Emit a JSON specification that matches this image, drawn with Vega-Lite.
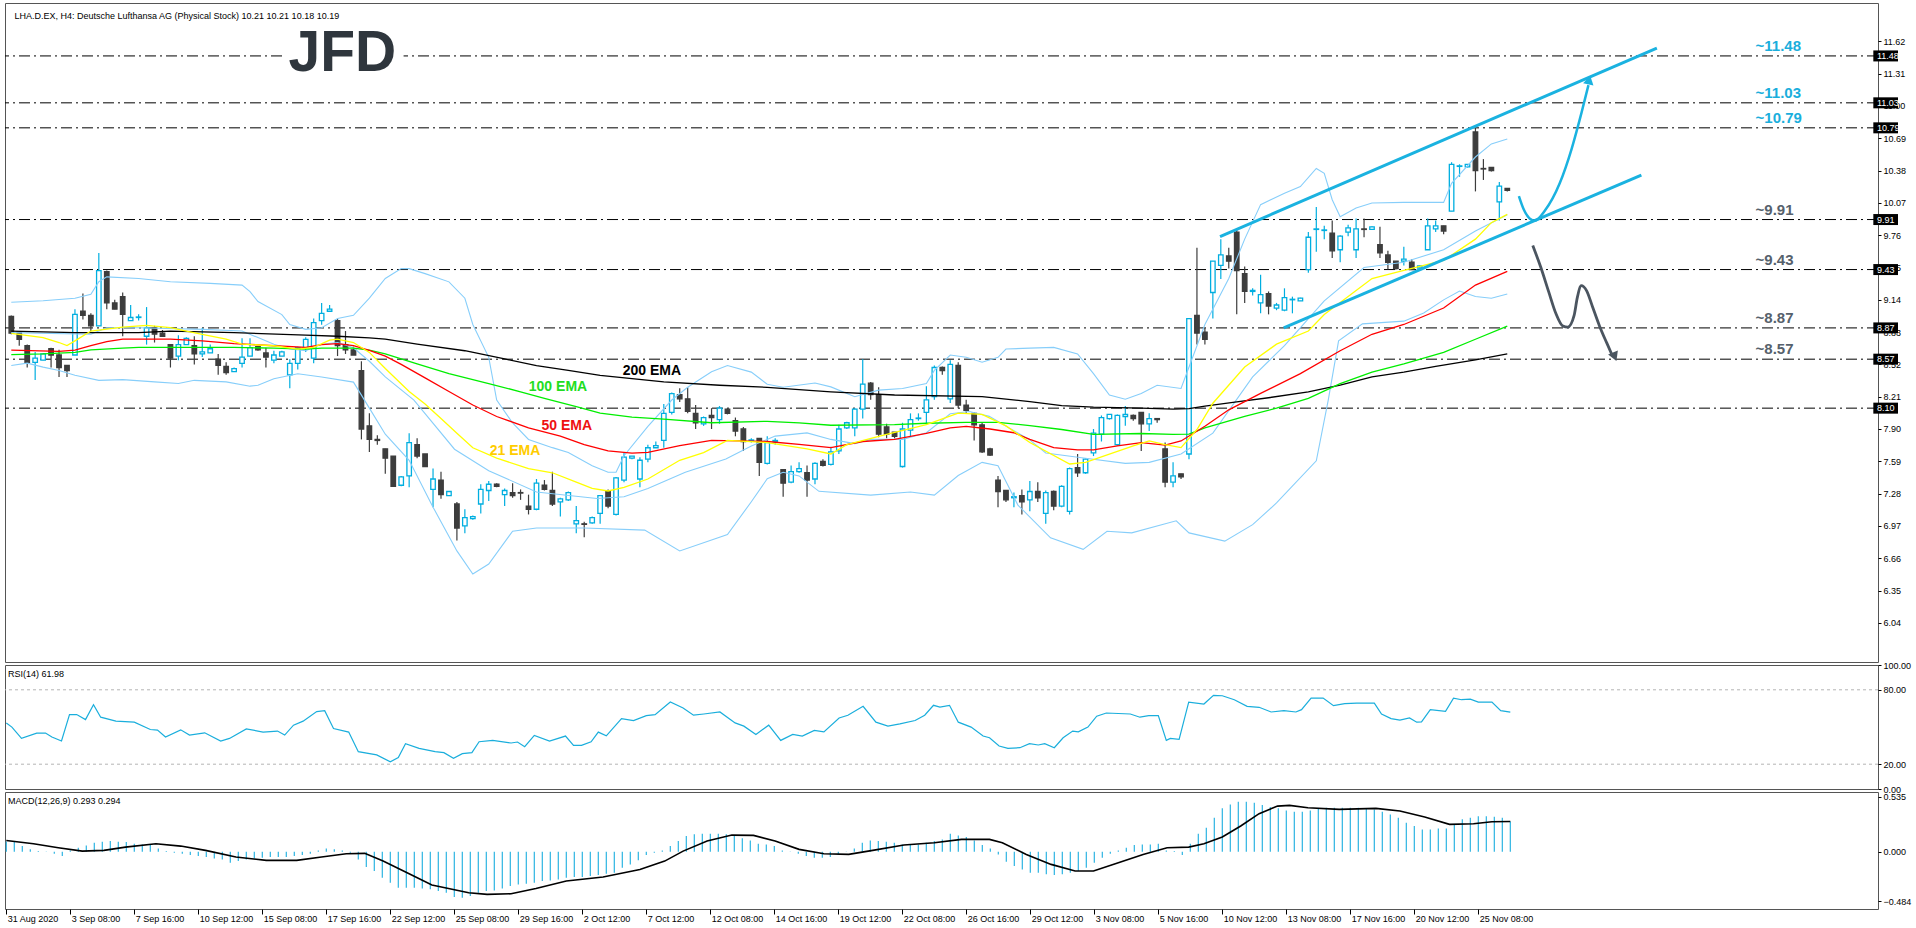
{
"$schema":"https://vega.github.io/schema/vega-lite/v6.json",
"background":"white",
"padding":{"left":2,"top":2,"right":0,"bottom":0},
"bounds":"flush",
"spacing":3,
"config":{"view":{"stroke":"#555555","strokeWidth":1},"axis":{"labelFont":"Liberation Sans","labelFontSize":9,"labelColor":"#000","tickColor":"#000","domain":false,"grid":false,"labelOverlap":false}},
"datasets":{
"levels":[{"p":11.48,"g":"hi","lab":"~11.48"},{"p":11.03,"g":"hi","lab":"~11.03"},{"p":10.79,"g":"hi","lab":"~10.79"},{"p":9.91,"g":"lo","lab":"~9.91"},{"p":9.43,"g":"lo","lab":"~9.43"},{"p":8.87,"g":"lo","lab":"~8.87"},{"p":8.57,"g":"lo","lab":"~8.57"},{"p":8.10,"g":"none","lab":""}],
"candles":[
{"i":0,"o":8.98,"h":8.99,"l":8.81,"c":8.82},{"i":1,"o":8.83,"h":8.83,"l":8.70,"c":8.76},{"i":2,"o":8.70,"h":8.71,"l":8.49,"c":8.54},{"i":3,"o":8.54,"h":8.64,"l":8.37,"c":8.58},{"i":4,"o":8.56,"h":8.63,"l":8.56,"c":8.62},{"i":5,"o":8.67,"h":8.68,"l":8.49,"c":8.61},{"i":6,"o":8.61,"h":8.66,"l":8.40,"c":8.49},{"i":7,"o":8.51,"h":8.51,"l":8.40,"c":8.46},{"i":8,"o":8.61,"h":9.05,"l":8.61,"c":9.00},{"i":9,"o":9.03,"h":9.20,"l":8.95,"c":8.99},
{"i":10,"o":8.99,"h":9.01,"l":8.84,"c":8.89},{"i":11,"o":8.89,"h":9.59,"l":8.89,"c":9.42},{"i":12,"o":9.41,"h":9.42,"l":9.05,"c":9.11},{"i":13,"o":9.11,"h":9.14,"l":9.05,"c":9.05},{"i":14,"o":9.17,"h":9.21,"l":8.79,"c":9.00},{"i":15,"o":8.94,"h":9.09,"l":8.94,"c":8.97},{"i":16,"o":8.97,"h":9.00,"l":8.94,"c":8.975},{"i":17,"o":8.79,"h":9.07,"l":8.71,"c":8.87},{"i":18,"o":8.87,"h":8.89,"l":8.73,"c":8.81},{"i":19,"o":8.82,"h":8.85,"l":8.79,"c":8.79},
{"i":20,"o":8.71,"h":8.71,"l":8.49,"c":8.58},{"i":21,"o":8.60,"h":8.80,"l":8.56,"c":8.71},{"i":22,"o":8.71,"h":8.78,"l":8.71,"c":8.77},{"i":23,"o":8.70,"h":8.79,"l":8.52,"c":8.62},{"i":24,"o":8.62,"h":8.87,"l":8.59,"c":8.64},{"i":25,"o":8.63,"h":8.71,"l":8.63,"c":8.67},{"i":26,"o":8.57,"h":8.62,"l":8.42,"c":8.51},{"i":27,"o":8.50,"h":8.54,"l":8.42,"c":8.44},{"i":28,"o":8.45,"h":8.49,"l":8.45,"c":8.48},{"i":29,"o":8.53,"h":8.77,"l":8.49,"c":8.59},
{"i":30,"o":8.60,"h":8.77,"l":8.60,"c":8.68},{"i":31,"o":8.69,"h":8.69,"l":8.65,"c":8.66},{"i":32,"o":8.63,"h":8.68,"l":8.49,"c":8.59},{"i":33,"o":8.56,"h":8.65,"l":8.53,"c":8.61},{"i":34,"o":8.60,"h":8.65,"l":8.60,"c":8.64},{"i":35,"o":8.42,"h":8.57,"l":8.29,"c":8.53},{"i":36,"o":8.53,"h":8.69,"l":8.47,"c":8.68},{"i":37,"o":8.68,"h":8.78,"l":8.64,"c":8.76},{"i":38,"o":8.58,"h":8.96,"l":8.53,"c":8.92},{"i":39,"o":8.94,"h":9.11,"l":8.90,"c":9.01},
{"i":40,"o":9.03,"h":9.09,"l":9.03,"c":9.05},{"i":41,"o":8.94,"h":8.96,"l":8.60,"c":8.70},{"i":42,"o":8.71,"h":8.84,"l":8.62,"c":8.66},{"i":43,"o":8.66,"h":8.69,"l":8.61,"c":8.61},{"i":44,"o":8.46,"h":8.55,"l":7.80,"c":7.90},{"i":45,"o":7.93,"h":8.05,"l":7.68,"c":7.80},{"i":46,"o":7.80,"h":7.84,"l":7.75,"c":7.79},{"i":47,"o":7.71,"h":7.71,"l":7.47,"c":7.62},{"i":48,"o":7.64,"h":7.64,"l":7.35,"c":7.35},{"i":49,"o":7.36,"h":7.45,"l":7.35,"c":7.44},
{"i":50,"o":7.45,"h":7.86,"l":7.34,"c":7.77},{"i":51,"o":7.75,"h":7.81,"l":7.62,"c":7.64},{"i":52,"o":7.66,"h":7.66,"l":7.54,"c":7.54},{"i":53,"o":7.32,"h":7.52,"l":7.15,"c":7.42},{"i":54,"o":7.41,"h":7.49,"l":7.23,"c":7.27},{"i":55,"o":7.26,"h":7.30,"l":7.26,"c":7.30},{"i":56,"o":7.18,"h":7.20,"l":6.83,"c":6.95},{"i":57,"o":6.97,"h":7.13,"l":6.90,"c":7.05},{"i":58,"o":7.04,"h":7.07,"l":7.03,"c":7.06},{"i":59,"o":7.18,"h":7.37,"l":7.09,"c":7.32},
{"i":60,"o":7.31,"h":7.40,"l":7.21,"c":7.37},{"i":61,"o":7.37,"h":7.38,"l":7.34,"c":7.35},{"i":62,"o":7.27,"h":7.33,"l":7.16,"c":7.31},{"i":63,"o":7.29,"h":7.38,"l":7.24,"c":7.26},{"i":64,"o":7.29,"h":7.32,"l":7.22,"c":7.285},{"i":65,"o":7.16,"h":7.27,"l":7.08,"c":7.13},{"i":66,"o":7.13,"h":7.42,"l":7.12,"c":7.38},{"i":67,"o":7.36,"h":7.41,"l":7.31,"c":7.32},{"i":68,"o":7.31,"h":7.49,"l":7.16,"c":7.18},{"i":69,"o":7.20,"h":7.24,"l":7.06,"c":7.23},
{"i":70,"o":7.22,"h":7.30,"l":7.21,"c":7.29},{"i":71,"o":6.99,"h":7.16,"l":6.90,"c":7.02},{"i":72,"o":6.99,"h":7.01,"l":6.86,"c":6.985},{"i":73,"o":7.00,"h":7.06,"l":6.99,"c":7.05},{"i":74,"o":7.09,"h":7.26,"l":6.99,"c":7.26},{"i":75,"o":7.30,"h":7.32,"l":7.14,"c":7.16},{"i":76,"o":7.08,"h":7.44,"l":7.07,"c":7.43},{"i":77,"o":7.41,"h":7.67,"l":7.39,"c":7.63},{"i":78,"o":7.62,"h":7.64,"l":7.61,"c":7.64},{"i":79,"o":7.42,"h":7.63,"l":7.34,"c":7.60},
{"i":80,"o":7.61,"h":7.75,"l":7.58,"c":7.72},{"i":81,"o":7.72,"h":7.78,"l":7.72,"c":7.74},{"i":82,"o":7.79,"h":8.14,"l":7.72,"c":8.05},{"i":83,"o":8.06,"h":8.25,"l":8.04,"c":8.24},{"i":84,"o":8.23,"h":8.29,"l":8.16,"c":8.19},{"i":85,"o":8.19,"h":8.30,"l":8.05,"c":8.07},{"i":86,"o":8.05,"h":8.13,"l":7.90,"c":7.96},{"i":87,"o":7.95,"h":8.02,"l":7.93,"c":8.01},{"i":88,"o":8.03,"h":8.10,"l":7.90,"c":8.01},{"i":89,"o":7.99,"h":8.12,"l":7.95,"c":8.10},
{"i":90,"o":8.09,"h":8.10,"l":8.04,"c":8.05},{"i":91,"o":7.98,"h":8.01,"l":7.83,"c":7.88},{"i":92,"o":7.90,"h":7.92,"l":7.69,"c":7.78},{"i":93,"o":7.79,"h":7.81,"l":7.77,"c":7.795},{"i":94,"o":7.81,"h":7.81,"l":7.45,"c":7.58},{"i":95,"o":7.57,"h":7.83,"l":7.56,"c":7.77},{"i":96,"o":7.78,"h":7.81,"l":7.75,"c":7.79},{"i":97,"o":7.51,"h":7.51,"l":7.25,"c":7.38},{"i":98,"o":7.39,"h":7.55,"l":7.38,"c":7.49},{"i":99,"o":7.49,"h":7.58,"l":7.48,"c":7.52},
{"i":100,"o":7.48,"h":7.55,"l":7.25,"c":7.41},{"i":101,"o":7.42,"h":7.58,"l":7.37,"c":7.57},{"i":102,"o":7.59,"h":7.61,"l":7.54,"c":7.55},{"i":103,"o":7.56,"h":7.73,"l":7.55,"c":7.68},{"i":104,"o":7.69,"h":7.94,"l":7.66,"c":7.90},{"i":105,"o":7.91,"h":7.97,"l":7.90,"c":7.96},{"i":106,"o":7.91,"h":8.10,"l":7.83,"c":8.09},{"i":107,"o":8.09,"h":8.57,"l":8.00,"c":8.33},{"i":108,"o":8.34,"h":8.35,"l":8.18,"c":8.23},{"i":109,"o":8.23,"h":8.30,"l":7.82,"c":7.85},
{"i":110,"o":7.92,"h":7.95,"l":7.81,"c":7.85},{"i":111,"o":7.87,"h":7.87,"l":7.81,"c":7.83},{"i":112,"o":7.54,"h":7.96,"l":7.53,"c":7.90},{"i":113,"o":7.89,"h":8.05,"l":7.83,"c":7.99},{"i":114,"o":8.00,"h":8.05,"l":7.98,"c":8.005},{"i":115,"o":8.06,"h":8.31,"l":7.94,"c":8.18},{"i":116,"o":8.21,"h":8.51,"l":8.18,"c":8.49},{"i":117,"o":8.49,"h":8.50,"l":8.42,"c":8.46},{"i":118,"o":8.19,"h":8.56,"l":8.15,"c":8.52},{"i":119,"o":8.51,"h":8.54,"l":8.10,"c":8.13},
{"i":120,"o":8.13,"h":8.18,"l":8.05,"c":8.08},{"i":121,"o":8.05,"h":8.06,"l":7.79,"c":7.94},{"i":122,"o":7.94,"h":7.96,"l":7.67,"c":7.68},{"i":123,"o":7.71,"h":7.72,"l":7.64,"c":7.65},{"i":124,"o":7.41,"h":7.45,"l":7.15,"c":7.30},{"i":125,"o":7.31,"h":7.31,"l":7.20,"c":7.22},{"i":126,"o":7.24,"h":7.29,"l":7.15,"c":7.25},{"i":127,"o":7.26,"h":7.32,"l":7.08,"c":7.20},{"i":128,"o":7.22,"h":7.40,"l":7.11,"c":7.30},{"i":129,"o":7.30,"h":7.39,"l":7.20,"c":7.24},
{"i":130,"o":7.09,"h":7.31,"l":6.99,"c":7.29},{"i":131,"o":7.30,"h":7.31,"l":7.12,"c":7.16},{"i":132,"o":7.16,"h":7.36,"l":7.15,"c":7.35},{"i":133,"o":7.11,"h":7.53,"l":7.08,"c":7.52},{"i":134,"o":7.53,"h":7.66,"l":7.44,"c":7.48},{"i":135,"o":7.48,"h":7.62,"l":7.47,"c":7.61},{"i":136,"o":7.67,"h":7.90,"l":7.64,"c":7.86},{"i":137,"o":7.85,"h":8.03,"l":7.78,"c":8.01},{"i":138,"o":8.00,"h":8.04,"l":7.99,"c":8.04},{"i":139,"o":7.75,"h":8.04,"l":7.74,"c":8.03},
{"i":140,"o":8.02,"h":8.12,"l":7.93,"c":8.04},{"i":141,"o":8.03,"h":8.04,"l":7.98,"c":8.00},{"i":142,"o":8.06,"h":8.06,"l":7.69,"c":7.95},{"i":143,"o":7.95,"h":8.05,"l":7.88,"c":8.00},{"i":144,"o":8.00,"h":8.00,"l":7.96,"c":7.99},{"i":145,"o":7.71,"h":7.77,"l":7.34,"c":7.39},{"i":146,"o":7.39,"h":7.58,"l":7.34,"c":7.45},{"i":147,"o":7.47,"h":7.47,"l":7.42,"c":7.44},{"i":148,"o":7.66,"h":8.96,"l":7.61,"c":8.96},{"i":149,"o":8.99,"h":9.64,"l":8.71,"c":8.82},
{"i":150,"o":8.83,"h":8.87,"l":8.71,"c":8.76},{"i":151,"o":9.21,"h":9.51,"l":8.96,"c":9.51},{"i":152,"o":9.47,"h":9.72,"l":9.34,"c":9.57},{"i":153,"o":9.56,"h":9.64,"l":9.44,"c":9.51},{"i":154,"o":9.79,"h":9.83,"l":9.00,"c":9.42},{"i":155,"o":9.39,"h":9.46,"l":9.11,"c":9.22},{"i":156,"o":9.22,"h":9.25,"l":9.18,"c":9.23},{"i":157,"o":9.11,"h":9.38,"l":9.01,"c":9.19},{"i":158,"o":9.20,"h":9.22,"l":9.00,"c":9.08},{"i":159,"o":9.06,"h":9.11,"l":9.04,"c":9.09},
{"i":160,"o":9.04,"h":9.25,"l":9.03,"c":9.16},{"i":161,"o":9.14,"h":9.17,"l":9.01,"c":9.145},{"i":162,"o":9.13,"h":9.16,"l":9.13,"c":9.155},{"i":163,"o":9.43,"h":9.79,"l":9.40,"c":9.74},{"i":164,"o":9.815,"h":10.03,"l":9.60,"c":9.82},{"i":165,"o":9.805,"h":9.85,"l":9.72,"c":9.81},{"i":166,"o":9.78,"h":9.90,"l":9.54,"c":9.61},{"i":167,"o":9.62,"h":9.76,"l":9.50,"c":9.75},{"i":168,"o":9.79,"h":9.86,"l":9.75,"c":9.83},{"i":169,"o":9.62,"h":9.92,"l":9.54,"c":9.82},
{"i":170,"o":9.82,"h":9.92,"l":9.74,"c":9.815},{"i":171,"o":9.815,"h":9.845,"l":9.81,"c":9.84},{"i":172,"o":9.67,"h":9.84,"l":9.54,"c":9.59},{"i":173,"o":9.57,"h":9.61,"l":9.43,"c":9.50},{"i":174,"o":9.51,"h":9.51,"l":9.43,"c":9.44},{"i":175,"o":9.51,"h":9.65,"l":9.47,"c":9.53},{"i":176,"o":9.50,"h":9.53,"l":9.43,"c":9.43},{"i":177,"o":9.445,"h":9.47,"l":9.44,"c":9.465},{"i":178,"o":9.62,"h":9.92,"l":9.62,"c":9.85},{"i":179,"o":9.82,"h":9.90,"l":9.79,"c":9.85},
{"i":180,"o":9.85,"h":9.85,"l":9.77,"c":9.80},{"i":181,"o":9.99,"h":10.46,"l":9.99,"c":10.44},{"i":182,"o":10.42,"h":10.44,"l":10.32,"c":10.425},{"i":183,"o":10.415,"h":10.44,"l":10.41,"c":10.44},{"i":184,"o":10.75,"h":10.79,"l":10.18,"c":10.38},{"i":185,"o":10.40,"h":10.49,"l":10.29,"c":10.395},{"i":186,"o":10.41,"h":10.41,"l":10.37,"c":10.38},{"i":187,"o":10.08,"h":10.27,"l":9.90,"c":10.23},{"i":188,"o":10.21,"h":10.21,"l":10.18,"c":10.19}
],
"ema":[
{"s":"e200","i":0,"v":8.84},{"s":"e200","i":8,"v":8.825},{"s":"e200","i":16,"v":8.825},{"s":"e200","i":20,"v":8.84},{"s":"e200","i":28,"v":8.825},{"s":"e200","i":37,"v":8.80},{"s":"e200","i":41,"v":8.79},{"s":"e200","i":45,"v":8.775},{"s":"e200","i":47,"v":8.762},{"s":"e200","i":51,"v":8.714},{"s":"e200","i":57,"v":8.651},{"s":"e200","i":62,"v":8.572},{"s":"e200","i":66,"v":8.509},{"s":"e200","i":70,"v":8.462},{"s":"e200","i":74,"v":8.415},{"s":"e200","i":78,"v":8.383},{"s":"e200","i":82,"v":8.352},{"s":"e200","i":89,"v":8.32},{"s":"e200","i":95,"v":8.30},{"s":"e200","i":103,"v":8.257},{"s":"e200","i":111,"v":8.226},{"s":"e200","i":122,"v":8.21},{"s":"e200","i":128,"v":8.163},{"s":"e200","i":132,"v":8.125},{"s":"e200","i":136,"v":8.109},{"s":"e200","i":142,"v":8.10},{"s":"e200","i":146,"v":8.09},{"s":"e200","i":148,"v":8.095},{"s":"e200","i":150,"v":8.12},{"s":"e200","i":154,"v":8.16},{"s":"e200","i":158,"v":8.20},{"s":"e200","i":163,"v":8.257},{"s":"e200","i":167,"v":8.32},{"s":"e200","i":171,"v":8.40},{"s":"e200","i":175,"v":8.446},{"s":"e200","i":179,"v":8.50},{"s":"e200","i":184,"v":8.563},{"s":"e200","i":188,"v":8.62},
{"s":"e100","i":0,"v":8.613},{"s":"e100","i":4,"v":8.62},{"s":"e100","i":8,"v":8.635},{"s":"e100","i":10,"v":8.66},{"s":"e100","i":14,"v":8.676},{"s":"e100","i":16,"v":8.683},{"s":"e100","i":28,"v":8.683},{"s":"e100","i":33,"v":8.676},{"s":"e100","i":37,"v":8.667},{"s":"e100","i":39,"v":8.676},{"s":"e100","i":43,"v":8.676},{"s":"e100","i":45,"v":8.657},{"s":"e100","i":47,"v":8.62},{"s":"e100","i":51,"v":8.525},{"s":"e100","i":55,"v":8.431},{"s":"e100","i":60,"v":8.336},{"s":"e100","i":64,"v":8.257},{"s":"e100","i":67,"v":8.194},{"s":"e100","i":71,"v":8.115},{"s":"e100","i":74,"v":8.052},{"s":"e100","i":78,"v":8.014},{"s":"e100","i":82,"v":7.995},{"s":"e100","i":88,"v":7.96},{"s":"e100","i":95,"v":7.974},{"s":"e100","i":99,"v":7.958},{"s":"e100","i":103,"v":7.936},{"s":"e100","i":111,"v":7.942},{"s":"e100","i":115,"v":7.955},{"s":"e100","i":120,"v":7.964},{"s":"e100","i":124,"v":7.964},{"s":"e100","i":128,"v":7.933},{"s":"e100","i":132,"v":7.895},{"s":"e100","i":136,"v":7.848},{"s":"e100","i":142,"v":7.857},{"s":"e100","i":146,"v":7.848},{"s":"e100","i":148,"v":7.85},{"s":"e100","i":150,"v":7.911},{"s":"e100","i":155,"v":8.021},{"s":"e100","i":159,"v":8.10},{"s":"e100","i":163,"v":8.194},{"s":"e100","i":167,"v":8.336},{"s":"e100","i":171,"v":8.446},{"s":"e100","i":175,"v":8.525},{"s":"e100","i":180,"v":8.635},{"s":"e100","i":184,"v":8.761},{"s":"e100","i":188,"v":8.887},
{"s":"e50","i":0,"v":8.657},{"s":"e50","i":6,"v":8.645},{"s":"e50","i":8,"v":8.657},{"s":"e50","i":10,"v":8.699},{"s":"e50","i":12,"v":8.739},{"s":"e50","i":14,"v":8.762},{"s":"e50","i":20,"v":8.762},{"s":"e50","i":24,"v":8.746},{"s":"e50","i":28,"v":8.72},{"s":"e50","i":33,"v":8.699},{"s":"e50","i":37,"v":8.683},{"s":"e50","i":39,"v":8.71},{"s":"e50","i":41,"v":8.72},{"s":"e50","i":43,"v":8.70},{"s":"e50","i":45,"v":8.655},{"s":"e50","i":47,"v":8.60},{"s":"e50","i":49,"v":8.52},{"s":"e50","i":52,"v":8.39},{"s":"e50","i":55,"v":8.26},{"s":"e50","i":58,"v":8.13},{"s":"e50","i":61,"v":8.02},{"s":"e50","i":65,"v":7.911},{"s":"e50","i":69,"v":7.832},{"s":"e50","i":72,"v":7.75},{"s":"e50","i":75,"v":7.69},{"s":"e50","i":78,"v":7.668},{"s":"e50","i":80,"v":7.675},{"s":"e50","i":84,"v":7.74},{"s":"e50","i":88,"v":7.79},{"s":"e50","i":95,"v":7.78},{"s":"e50","i":99,"v":7.753},{"s":"e50","i":103,"v":7.721},{"s":"e50","i":107,"v":7.78},{"s":"e50","i":111,"v":7.80},{"s":"e50","i":115,"v":7.857},{"s":"e50","i":118,"v":7.911},{"s":"e50","i":120,"v":7.926},{"s":"e50","i":123,"v":7.90},{"s":"e50","i":126,"v":7.864},{"s":"e50","i":128,"v":7.80},{"s":"e50","i":131,"v":7.721},{"s":"e50","i":134,"v":7.70},{"s":"e50","i":136,"v":7.70},{"s":"e50","i":139,"v":7.737},{"s":"e50","i":142,"v":7.769},{"s":"e50","i":145,"v":7.745},{"s":"e50","i":147,"v":7.785},{"s":"e50","i":150,"v":7.927},{"s":"e50","i":153,"v":8.084},{"s":"e50","i":157,"v":8.242},{"s":"e50","i":162,"v":8.431},{"s":"e50","i":167,"v":8.651},{"s":"e50","i":171,"v":8.809},{"s":"e50","i":175,"v":8.903},{"s":"e50","i":180,"v":9.061},{"s":"e50","i":184,"v":9.281},{"s":"e50","i":188,"v":9.413},
{"s":"e21","i":0,"v":8.818},{"s":"e21","i":4,"v":8.777},{"s":"e21","i":6,"v":8.73},{"s":"e21","i":7,"v":8.70},{"s":"e21","i":8,"v":8.746},{"s":"e21","i":10,"v":8.84},{"s":"e21","i":14,"v":8.878},{"s":"e21","i":17,"v":8.894},{"s":"e21","i":20,"v":8.872},{"s":"e21","i":22,"v":8.84},{"s":"e21","i":24,"v":8.809},{"s":"e21","i":27,"v":8.762},{"s":"e21","i":29,"v":8.714},{"s":"e21","i":33,"v":8.699},{"s":"e21","i":36,"v":8.667},{"s":"e21","i":38,"v":8.683},{"s":"e21","i":40,"v":8.752},{"s":"e21","i":41,"v":8.762},{"s":"e21","i":43,"v":8.73},{"s":"e21","i":45,"v":8.635},{"s":"e21","i":47,"v":8.48},{"s":"e21","i":50,"v":8.26},{"s":"e21","i":52,"v":8.14},{"s":"e21","i":54,"v":8.0},{"s":"e21","i":56,"v":7.86},{"s":"e21","i":58,"v":7.72},{"s":"e21","i":61,"v":7.62},{"s":"e21","i":65,"v":7.52},{"s":"e21","i":68,"v":7.48},{"s":"e21","i":71,"v":7.39},{"s":"e21","i":73,"v":7.33},{"s":"e21","i":75,"v":7.305},{"s":"e21","i":77,"v":7.34},{"s":"e21","i":80,"v":7.42},{"s":"e21","i":84,"v":7.60},{"s":"e21","i":87,"v":7.674},{"s":"e21","i":90,"v":7.79},{"s":"e21","i":95,"v":7.77},{"s":"e21","i":100,"v":7.71},{"s":"e21","i":103,"v":7.66},{"s":"e21","i":105,"v":7.75},{"s":"e21","i":110,"v":7.848},{"s":"e21","i":115,"v":7.942},{"s":"e21","i":119,"v":8.052},{"s":"e21","i":122,"v":8.04},{"s":"e21","i":125,"v":7.93},{"s":"e21","i":128,"v":7.77},{"s":"e21","i":133,"v":7.564},{"s":"e21","i":135,"v":7.58},{"s":"e21","i":141,"v":7.737},{"s":"e21","i":143,"v":7.785},{"s":"e21","i":145,"v":7.75},{"s":"e21","i":147,"v":7.721},{"s":"e21","i":149,"v":7.895},{"s":"e21","i":151,"v":8.147},{"s":"e21","i":155,"v":8.494},{"s":"e21","i":159,"v":8.714},{"s":"e21","i":163,"v":8.84},{"s":"e21","i":165,"v":8.998},{"s":"e21","i":171,"v":9.344},{"s":"e21","i":175,"v":9.423},{"s":"e21","i":180,"v":9.517},{"s":"e21","i":184,"v":9.722},{"s":"e21","i":186,"v":9.88},{"s":"e21","i":188,"v":9.959}
],
"bb":[
{"s":"up","i":0,"v":9.117},{"s":"up","i":4,"v":9.13},{"s":"up","i":8,"v":9.155},{"s":"up","i":10,"v":9.193},{"s":"up","i":11,"v":9.313},{"s":"up","i":12,"v":9.36},{"s":"up","i":16,"v":9.344},{"s":"up","i":20,"v":9.313},{"s":"up","i":25,"v":9.297},{"s":"up","i":29,"v":9.281},{"s":"up","i":30,"v":9.218},{"s":"up","i":31,"v":9.123},{"s":"up","i":34,"v":8.998},{"s":"up","i":35,"v":8.903},{"s":"up","i":37,"v":8.856},{"s":"up","i":39,"v":8.872},{"s":"up","i":41,"v":8.96},{"s":"up","i":43,"v":8.991},{"s":"up","i":45,"v":9.155},{"s":"up","i":47,"v":9.344},{"s":"up","i":49,"v":9.439},{"s":"up","i":50,"v":9.439},{"s":"up","i":52,"v":9.391},{"s":"up","i":55,"v":9.312},{"s":"up","i":57,"v":9.155},{"s":"up","i":58,"v":8.903},{"s":"up","i":60,"v":8.588},{"s":"up","i":61,"v":8.178},{"s":"up","i":63,"v":7.958},{"s":"up","i":65,"v":7.80},{"s":"up","i":68,"v":7.721},{"s":"up","i":70,"v":7.674},{"s":"up","i":73,"v":7.548},{"s":"up","i":75,"v":7.485},{"s":"up","i":76,"v":7.485},{"s":"up","i":77,"v":7.643},{"s":"up","i":80,"v":7.926},{"s":"up","i":83,"v":8.178},{"s":"up","i":85,"v":8.30},{"s":"up","i":88,"v":8.45},{"s":"up","i":90,"v":8.509},{"s":"up","i":93,"v":8.446},{"s":"up","i":95,"v":8.33},{"s":"up","i":97,"v":8.30},{"s":"up","i":101,"v":8.342},{"s":"up","i":103,"v":8.304},{"s":"up","i":106,"v":8.21},{"s":"up","i":109,"v":8.273},{"s":"up","i":112,"v":8.289},{"s":"up","i":115,"v":8.336},{"s":"up","i":116,"v":8.462},{"s":"up","i":118,"v":8.61},{"s":"up","i":120,"v":8.588},{"s":"up","i":122,"v":8.541},{"s":"up","i":124,"v":8.588},{"s":"up","i":125,"v":8.667},{"s":"up","i":128,"v":8.676},{"s":"up","i":131,"v":8.683},{"s":"up","i":134,"v":8.62},{"s":"up","i":136,"v":8.431},{"s":"up","i":138,"v":8.226},{"s":"up","i":140,"v":8.185},{"s":"up","i":142,"v":8.241},{"s":"up","i":144,"v":8.32},{"s":"up","i":147,"v":8.289},{"s":"up","i":150,"v":8.903},{"s":"up","i":153,"v":9.344},{"s":"up","i":155,"v":9.722},{"s":"up","i":157,"v":10.053},{"s":"up","i":160,"v":10.163},{"s":"up","i":162,"v":10.227},{"s":"up","i":164,"v":10.40},{"s":"up","i":165,"v":10.353},{"s":"up","i":166,"v":10.10},{"s":"up","i":167,"v":9.937},{"s":"up","i":169,"v":10.021},{"s":"up","i":171,"v":10.069},{"s":"up","i":175,"v":10.075},{"s":"up","i":180,"v":10.075},{"s":"up","i":181,"v":10.258},{"s":"up","i":184,"v":10.51},{"s":"up","i":186,"v":10.636},{"s":"up","i":188,"v":10.683},
{"s":"mid","i":0,"v":8.825},{"s":"mid","i":10,"v":8.809},{"s":"mid","i":12,"v":8.872},{"s":"mid","i":16,"v":8.872},{"s":"mid","i":24,"v":8.856},{"s":"mid","i":29,"v":8.84},{"s":"mid","i":31,"v":8.777},{"s":"mid","i":33,"v":8.714},{"s":"mid","i":35,"v":8.667},{"s":"mid","i":37,"v":8.651},{"s":"mid","i":39,"v":8.714},{"s":"mid","i":41,"v":8.73},{"s":"mid","i":43,"v":8.68},{"s":"mid","i":45,"v":8.55},{"s":"mid","i":47,"v":8.40},{"s":"mid","i":50.6,"v":8.178},{"s":"mid","i":55.7,"v":7.706},{"s":"mid","i":60,"v":7.50},{"s":"mid","i":66,"v":7.296},{"s":"mid","i":73.6,"v":7.233},{"s":"mid","i":77,"v":7.25},{"s":"mid","i":80,"v":7.328},{"s":"mid","i":84.7,"v":7.485},{"s":"mid","i":89.8,"v":7.612},{"s":"mid","i":93,"v":7.737},{"s":"mid","i":96,"v":7.832},{"s":"mid","i":100,"v":7.863},{"s":"mid","i":103,"v":7.80},{"s":"mid","i":106,"v":7.76},{"s":"mid","i":108,"v":7.80},{"s":"mid","i":112,"v":7.80},{"s":"mid","i":115,"v":7.864},{"s":"mid","i":118,"v":8.046},{"s":"mid","i":120.4,"v":8.068},{"s":"mid","i":122.9,"v":8.021},{"s":"mid","i":127.9,"v":7.80},{"s":"mid","i":130,"v":7.67},{"s":"mid","i":135,"v":7.62},{"s":"mid","i":140,"v":7.57},{"s":"mid","i":143,"v":7.58},{"s":"mid","i":147,"v":7.66},{"s":"mid","i":151,"v":7.86},{"s":"mid","i":156,"v":8.40},{"s":"mid","i":160,"v":8.70},{"s":"mid","i":165,"v":9.13},{"s":"mid","i":170,"v":9.45},{"s":"mid","i":175,"v":9.50},{"s":"mid","i":180,"v":9.62},{"s":"mid","i":184,"v":9.80},{"s":"mid","i":188,"v":9.955},
{"s":"lo","i":0,"v":8.509},{"s":"lo","i":2,"v":8.532},{"s":"lo","i":4,"v":8.494},{"s":"lo","i":6,"v":8.462},{"s":"lo","i":8,"v":8.415},{"s":"lo","i":11,"v":8.367},{"s":"lo","i":14,"v":8.374},{"s":"lo","i":18,"v":8.352},{"s":"lo","i":21,"v":8.336},{"s":"lo","i":23,"v":8.367},{"s":"lo","i":27,"v":8.352},{"s":"lo","i":30,"v":8.311},{"s":"lo","i":31,"v":8.32},{"s":"lo","i":33,"v":8.383},{"s":"lo","i":36,"v":8.43},{"s":"lo","i":39,"v":8.399},{"s":"lo","i":43,"v":8.35},{"s":"lo","i":45,"v":8.10},{"s":"lo","i":47,"v":7.85},{"s":"lo","i":50,"v":7.60},{"s":"lo","i":53,"v":7.15},{"s":"lo","i":56,"v":6.73},{"s":"lo","i":58,"v":6.509},{"s":"lo","i":60,"v":6.604},{"s":"lo","i":63,"v":6.919},{"s":"lo","i":66,"v":6.95},{"s":"lo","i":72,"v":6.95},{"s":"lo","i":79.6,"v":6.93},{"s":"lo","i":84,"v":6.73},{"s":"lo","i":90,"v":6.887},{"s":"lo","i":93,"v":7.202},{"s":"lo","i":95,"v":7.422},{"s":"lo","i":97,"v":7.485},{"s":"lo","i":99,"v":7.45},{"s":"lo","i":101.5,"v":7.302},{"s":"lo","i":108,"v":7.265},{"s":"lo","i":113,"v":7.296},{"s":"lo","i":116,"v":7.265},{"s":"lo","i":119,"v":7.454},{"s":"lo","i":122,"v":7.58},{"s":"lo","i":124,"v":7.548},{"s":"lo","i":126.5,"v":7.17},{"s":"lo","i":130.6,"v":6.856},{"s":"lo","i":134.7,"v":6.745},{"s":"lo","i":137.7,"v":6.919},{"s":"lo","i":140.8,"v":6.903},{"s":"lo","i":146.4,"v":7.019},{"s":"lo","i":148,"v":6.903},{"s":"lo","i":152.5,"v":6.824},{"s":"lo","i":156,"v":6.982},{"s":"lo","i":159,"v":7.19},{"s":"lo","i":164,"v":7.595},{"s":"lo","i":165.5,"v":8.178},{"s":"lo","i":166.8,"v":8.746},{"s":"lo","i":169.8,"v":8.909},{"s":"lo","i":175,"v":8.935},{"s":"lo","i":177.5,"v":9.013},{"s":"lo","i":180,"v":9.139},{"s":"lo","i":182,"v":9.224},{"s":"lo","i":184,"v":9.171},{"s":"lo","i":186,"v":9.155},{"s":"lo","i":188,"v":9.196}
],
"channel":[{"k":"up","i":151.9,"v":9.747},{"k":"up","i":206.8,"v":11.556},{"k":"lo","i":159.9,"v":8.871},{"k":"lo","i":204.85,"v":10.336}],
"arrowUp":[{"i":189.46,"v":10.135},{"i":190.09,"v":10.003},{"i":190.84,"v":9.918},{"i":191.46,"v":9.899},{"i":192.71,"v":9.994},{"i":194.59,"v":10.258},{"i":196.09,"v":10.589},{"i":197.34,"v":10.938},{"i":198.2,"v":11.2}],
"arrowDown":[{"i":191.2,"v":9.662},{"i":192.2,"v":9.454},{"i":193.2,"v":9.218},{"i":194.1,"v":9.01},{"i":195.0,"v":8.887},{"i":195.6,"v":8.878},{"i":196.4,"v":8.991},{"i":196.8,"v":9.161},{"i":197.3,"v":9.275},{"i":197.96,"v":9.228},{"i":198.7,"v":9.076},{"i":199.6,"v":8.887},{"i":200.5,"v":8.726},{"i":201.1,"v":8.622}],
"rsi":[{"i":0,"v":53.3},{"i":0.7,"v":49.9},{"i":1.9,"v":40.8},{"i":3.8,"v":45.1},{"i":4.9,"v":45.1},{"i":5.7,"v":41.9},{"i":6.9,"v":38.7},{"i":7.9,"v":60},{"i":8.8,"v":60},{"i":9.9,"v":56},{"i":10.9,"v":68},{"i":11.8,"v":57.9},{"i":13.7,"v":54.7},{"i":16,"v":53.9},{"i":18,"v":48},{"i":18.9,"v":47.5},{"i":19.9,"v":41.9},{"i":21.8,"v":47.7},{"i":22.9,"v":43.5},{"i":24.8,"v":45.3},{"i":26.8,"v":38.7},{"i":27.9,"v":40.8},{"i":30,"v":48.5},{"i":32.1,"v":45.9},{"i":33.9,"v":46.7},{"i":34.8,"v":43.5},{"i":35.9,"v":51.5},{"i":37.1,"v":54.7},{"i":38.8,"v":62.4},{"i":39.8,"v":63.2},{"i":40.9,"v":48.8},{"i":42.8,"v":45.9},{"i":44,"v":30.1},{"i":46.3,"v":27.5},{"i":48,"v":21.9},{"i":49,"v":25.3},{"i":49.9,"v":36.5},{"i":51.6,"v":32.8},{"i":53.6,"v":30.1},{"i":54.7,"v":29.3},{"i":55.9,"v":24.8},{"i":57,"v":28.5},{"i":58.2,"v":29.3},{"i":59.1,"v":38.1},{"i":60.8,"v":39.2},{"i":63.1,"v":37.1},{"i":63.9,"v":37.9},{"i":64.8,"v":34.1},{"i":66,"v":43.2},{"i":67.9,"v":38.7},{"i":69.9,"v":42.7},{"i":70.9,"v":35.2},{"i":71.9,"v":35.2},{"i":73.1,"v":38.1},{"i":74,"v":45.9},{"i":75,"v":42.9},{"i":76.9,"v":56.8},{"i":78.4,"v":55.2},{"i":80,"v":59.2},{"i":81.1,"v":60},{"i":83,"v":70.1},{"i":84.6,"v":65.3},{"i":85.9,"v":59.5},{"i":87.2,"v":60.5},{"i":89.2,"v":62.1},{"i":91.1,"v":53.3},{"i":92.2,"v":50.7},{"i":93.7,"v":44},{"i":95.3,"v":51.5},{"i":96.8,"v":39.2},{"i":98.3,"v":44},{"i":99.5,"v":42.7},{"i":101,"v":47.2},{"i":102.2,"v":46.1},{"i":104.1,"v":57.3},{"i":105.2,"v":59.5},{"i":107.1,"v":66.7},{"i":108.7,"v":53.9},{"i":110.2,"v":50.7},{"i":111.7,"v":52.5},{"i":113.6,"v":55.2},{"i":114.8,"v":59.5},{"i":115.9,"v":67.5},{"i":116.7,"v":66.1},{"i":117.9,"v":67.5},{"i":119,"v":53.9},{"i":120.6,"v":49.9},{"i":122.1,"v":42.7},{"i":122.9,"v":41.3},{"i":124.1,"v":34.7},{"i":125.2,"v":32.8},{"i":126.7,"v":33.3},{"i":127.9,"v":36.5},{"i":129,"v":35.5},{"i":129.8,"v":36.5},{"i":131,"v":33.3},{"i":132.1,"v":41.3},{"i":133.3,"v":46.7},{"i":134,"v":46.1},{"i":135.2,"v":49.9},{"i":136.3,"v":58.7},{"i":137.5,"v":61.3},{"i":140.5,"v":60.5},{"i":141.7,"v":57.9},{"i":142.8,"v":59.2},{"i":144,"v":59.2},{"i":145,"v":39.2},{"i":145.5,"v":40.8},{"i":146.6,"v":40},{"i":147.8,"v":70.1},{"i":149.7,"v":68.5},{"i":150.9,"v":75.5},{"i":152,"v":75.2},{"i":153.5,"v":72},{"i":155.1,"v":66.7},{"i":156.6,"v":65.9},{"i":158.1,"v":62.1},{"i":159.7,"v":63.2},{"i":161.2,"v":62.1},{"i":161.9,"v":64},{"i":163.1,"v":73.3},{"i":164.6,"v":73.3},{"i":165.9,"v":67.2},{"i":167.3,"v":68.8},{"i":168.8,"v":69.3},{"i":171,"v":69.3},{"i":171.9,"v":60.5},{"i":173.1,"v":56.8},{"i":174.2,"v":55.5},{"i":175.4,"v":57.3},{"i":176.3,"v":53.9},{"i":176.9,"v":54.1},{"i":178,"v":64},{"i":179.9,"v":62.7},{"i":180.9,"v":73.3},{"i":181.9,"v":72},{"i":183,"v":72.5},{"i":184,"v":70.1},{"i":185.7,"v":70.1},{"i":186.8,"v":63.2},{"i":188,"v":61.98}],
"hist":[{"i":0,"v":0.10},{"i":1,"v":0.097},{"i":2,"v":0.055},{"i":3,"v":0.023},{"i":4,"v":0.006},{"i":5,"v":0.003},{"i":6,"v":-0.019},{"i":7,"v":-0.042},{"i":8,"v":0.013},{"i":9,"v":0.039},{"i":10,"v":0.06},{"i":11,"v":0.088},{"i":12,"v":0.097},{"i":13,"v":0.104},{"i":14,"v":0.097},{"i":15,"v":0.094},{"i":16,"v":0.078},{"i":17,"v":0.071},{"i":18,"v":0.065},{"i":19,"v":0.032},{"i":20,"v":0.006},{"i":21,"v":-0.01},{"i":22,"v":-0.019},{"i":23,"v":-0.032},{"i":24,"v":-0.042},{"i":25,"v":-0.052},{"i":26,"v":-0.065},{"i":27,"v":-0.075},{"i":28,"v":-0.107},{"i":29,"v":-0.091},{"i":30,"v":-0.075},{"i":31,"v":-0.065},{"i":32,"v":-0.058},{"i":33,"v":-0.052},{"i":34,"v":-0.052},{"i":35,"v":-0.052},{"i":36,"v":-0.042},{"i":37,"v":-0.032},{"i":38,"v":-0.019},{"i":39,"v":0.013},{"i":40,"v":0.032},{"i":41,"v":0.023},{"i":42,"v":0.013},{"i":43,"v":-0.01},{"i":44,"v":-0.075},{"i":45,"v":-0.149},{"i":46,"v":-0.188},{"i":47,"v":-0.253},{"i":48,"v":-0.302},{"i":49,"v":-0.35},{"i":50,"v":-0.35},{"i":51,"v":-0.35},{"i":52,"v":-0.357},{"i":53,"v":-0.366},{"i":54,"v":-0.383},{"i":55,"v":-0.399},{"i":56,"v":-0.441},{"i":57,"v":-0.447},{"i":58,"v":-0.431},{"i":59,"v":-0.399},{"i":60,"v":-0.383},{"i":61,"v":-0.376},{"i":62,"v":-0.357},{"i":63,"v":-0.334},{"i":64,"v":-0.318},{"i":65,"v":-0.311},{"i":66,"v":-0.302},{"i":67,"v":-0.285},{"i":68,"v":-0.279},{"i":69,"v":-0.269},{"i":70,"v":-0.253},{"i":71,"v":-0.246},{"i":72,"v":-0.246},{"i":73,"v":-0.237},{"i":74,"v":-0.227},{"i":75,"v":-0.214},{"i":76,"v":-0.204},{"i":77,"v":-0.156},{"i":78,"v":-0.123},{"i":79,"v":-0.084},{"i":80,"v":-0.032},{"i":81,"v":-0.01},{"i":82,"v":0.013},{"i":83,"v":0.055},{"i":84,"v":0.104},{"i":85,"v":0.152},{"i":86,"v":0.169},{"i":87,"v":0.175},{"i":88,"v":0.175},{"i":89,"v":0.175},{"i":90,"v":0.169},{"i":91,"v":0.152},{"i":92,"v":0.13},{"i":93,"v":0.11},{"i":94,"v":0.078},{"i":95,"v":0.071},{"i":96,"v":0.055},{"i":97,"v":0.013},{"i":98,"v":0.002},{"i":99,"v":-0.019},{"i":100,"v":-0.042},{"i":101,"v":-0.058},{"i":102,"v":-0.058},{"i":103,"v":-0.052},{"i":104,"v":-0.032},{"i":105,"v":-0.002},{"i":106,"v":0.032},{"i":107,"v":0.088},{"i":108,"v":0.11},{"i":109,"v":0.104},{"i":110,"v":0.097},{"i":111,"v":0.088},{"i":112,"v":0.071},{"i":113,"v":0.071},{"i":114,"v":0.071},{"i":115,"v":0.088},{"i":116,"v":0.104},{"i":117,"v":0.12},{"i":118,"v":0.175},{"i":119,"v":0.159},{"i":120,"v":0.143},{"i":121,"v":0.11},{"i":122,"v":0.065},{"i":123,"v":0.032},{"i":124,"v":-0.026},{"i":125,"v":-0.097},{"i":126,"v":-0.139},{"i":127,"v":-0.172},{"i":128,"v":-0.204},{"i":129,"v":-0.204},{"i":130,"v":-0.22},{"i":131,"v":-0.227},{"i":132,"v":-0.22},{"i":133,"v":-0.204},{"i":134,"v":-0.188},{"i":135,"v":-0.156},{"i":136,"v":-0.107},{"i":137,"v":-0.058},{"i":138,"v":-0.019},{"i":139,"v":0.013},{"i":140,"v":0.039},{"i":141,"v":0.065},{"i":142,"v":0.071},{"i":143,"v":0.071},{"i":144,"v":0.078},{"i":145,"v":0.013},{"i":146,"v":0.006},{"i":147,"v":-0.032},{"i":148,"v":0.078},{"i":149,"v":0.175},{"i":150,"v":0.233},{"i":151,"v":0.331},{"i":152,"v":0.422},{"i":153,"v":0.46},{"i":154,"v":0.486},{"i":155,"v":0.486},{"i":156,"v":0.477},{"i":157,"v":0.454},{"i":158,"v":0.434},{"i":159,"v":0.422},{"i":160,"v":0.402},{"i":161,"v":0.389},{"i":162,"v":0.389},{"i":163,"v":0.402},{"i":164,"v":0.422},{"i":165,"v":0.428},{"i":166,"v":0.428},{"i":167,"v":0.428},{"i":168,"v":0.428},{"i":169,"v":0.428},{"i":170,"v":0.422},{"i":171,"v":0.412},{"i":172,"v":0.389},{"i":173,"v":0.363},{"i":174,"v":0.331},{"i":175,"v":0.282},{"i":176,"v":0.25},{"i":177,"v":0.217},{"i":178,"v":0.217},{"i":179,"v":0.227},{"i":180,"v":0.227},{"i":181,"v":0.266},{"i":182,"v":0.315},{"i":183,"v":0.331},{"i":184,"v":0.345},{"i":185,"v":0.345},{"i":186,"v":0.34},{"i":187,"v":0.33},{"i":188,"v":0.293}],
"signal":[{"i":0,"v":0.11},{"i":3.4,"v":0.078},{"i":6.5,"v":0.039},{"i":9.5,"v":0.006},{"i":12.2,"v":0.013},{"i":14.9,"v":0.045},{"i":18.7,"v":0.078},{"i":21.8,"v":0.055},{"i":24.9,"v":0.013},{"i":28.7,"v":-0.052},{"i":32.5,"v":-0.084},{"i":36.3,"v":-0.084},{"i":39.4,"v":-0.052},{"i":42.5,"v":-0.019},{"i":44.8,"v":-0.016},{"i":47.1,"v":-0.091},{"i":50.1,"v":-0.204},{"i":53.2,"v":-0.324},{"i":57.8,"v":-0.399},{"i":60.1,"v":-0.415},{"i":63.1,"v":-0.409},{"i":66.2,"v":-0.357},{"i":70,"v":-0.285},{"i":74.6,"v":-0.246},{"i":79.2,"v":-0.172},{"i":82.3,"v":-0.091},{"i":84.6,"v":0.006},{"i":87.6,"v":0.104},{"i":90.7,"v":0.162},{"i":93.4,"v":0.159},{"i":96.1,"v":0.104},{"i":99.1,"v":0.023},{"i":102.2,"v":-0.019},{"i":105.3,"v":-0.026},{"i":108.3,"v":0.013},{"i":112.2,"v":0.065},{"i":116,"v":0.088},{"i":119.4,"v":0.12},{"i":122.9,"v":0.12},{"i":124.5,"v":0.088},{"i":127.5,"v":-0.026},{"i":130.6,"v":-0.123},{"i":133.6,"v":-0.188},{"i":135.9,"v":-0.188},{"i":139,"v":-0.107},{"i":142.1,"v":-0.026},{"i":145.1,"v":0.039},{"i":147.8,"v":0.045},{"i":149.7,"v":0.078},{"i":152,"v":0.143},{"i":154.3,"v":0.25},{"i":156.6,"v":0.37},{"i":158.9,"v":0.444},{"i":160.4,"v":0.451},{"i":162.7,"v":0.428},{"i":166.6,"v":0.412},{"i":171.2,"v":0.422},{"i":174.2,"v":0.396},{"i":177.3,"v":0.337},{"i":180.4,"v":0.266},{"i":183.4,"v":0.272},{"i":185.7,"v":0.292},{"i":188,"v":0.294}],
"rsiLevels":[{"v":20},{"v":80}]
},
"vconcat":[
{
"width":1873,"height":659,
"resolve":{"scale":{"color":"independent"}},
"layer":[
{"data":{"name":"levels"},"mark":{"type":"rule","color":"#000","strokeWidth":1,"strokeDash":[11,4,2,4]},
 "encoding":{"y":{"field":"p","type":"quantitative","scale":{"domain":[5.712,11.94],"nice":false,"zero":false},
  "axis":{"orient":"right","values":[6.04,6.35,6.66,6.97,7.28,7.59,7.9,8.21,8.52,8.83,9.14,9.45,9.76,10.07,10.38,10.69,11.0,11.31,11.62],"tickCount":50,"format":".2f","tickSize":3,"labelPadding":2,"labelOverlap":false,"domain":false,"grid":false,"title":null,"labelFont":"Liberation Sans","labelFontSize":9,"labelColor":"#000","tickColor":"#000"}}}},
{"data":{"values":[{}]},"mark":{"type":"rect","color":"#fff"},
 "encoding":{"x":{"datum":34.3,"type":"quantitative","scale":{"domain":[-0.1625,233.96],"nice":false,"zero":false},"axis":null},"x2":{"datum":49.3},
  "y":{"datum":11.43,"type":"quantitative","scale":{"domain":[5.712,11.94],"nice":false,"zero":false}},"y2":{"datum":11.53}}},
{"data":{"values":[{}]},"mark":{"type":"text","text":"JFD","font":"Liberation Sans","fontWeight":"bold","fontSize":57,"color":"#2f363d","align":"center","baseline":"middle"},
 "encoding":{"x":{"datum":41.6,"type":"quantitative","scale":{"domain":[-0.1625,233.96],"nice":false,"zero":false},"axis":null},
  "y":{"datum":11.50,"type":"quantitative","scale":{"domain":[5.712,11.94],"nice":false,"zero":false}}}},
{"data":{"name":"candles"},"mark":{"type":"rule","strokeWidth":1.2},
 "encoding":{"x":{"field":"i","type":"quantitative","scale":{"domain":[-0.1625,233.96],"nice":false,"zero":false},"axis":null},
  "y":{"field":"l","type":"quantitative","scale":{"domain":[5.712,11.94],"nice":false,"zero":false}},"y2":{"field":"h"},
  "stroke":{"condition":{"test":"datum.c >= datum.o","value":"#00aee0"},"value":"#3d3d3d"}}},
{"data":{"name":"candles"},"mark":{"type":"bar","size":4.5,"strokeWidth":1.3},
 "encoding":{"x":{"field":"i","type":"quantitative","scale":{"domain":[-0.1625,233.96],"nice":false,"zero":false},"axis":null},
  "y":{"field":"o","type":"quantitative","scale":{"domain":[5.712,11.94],"nice":false,"zero":false}},"y2":{"field":"c"},
  "fill":{"condition":{"test":"datum.c >= datum.o","value":"#ffffff"},"value":"#3d3d3d"},
  "stroke":{"condition":{"test":"datum.c >= datum.o","value":"#00aee0"},"value":"#3d3d3d"}}},
{"data":{"name":"bb"},"mark":{"type":"line","color":"#87cefa","strokeWidth":1.1},
 "encoding":{"x":{"field":"i","type":"quantitative","scale":{"domain":[-0.1625,233.96],"nice":false,"zero":false},"axis":null},
  "y":{"field":"v","type":"quantitative","scale":{"domain":[5.712,11.94],"nice":false,"zero":false}},"detail":{"field":"s"}}},
{"data":{"name":"ema"},"mark":{"type":"line","strokeWidth":1.3},
 "encoding":{"x":{"field":"i","type":"quantitative","scale":{"domain":[-0.1625,233.96],"nice":false,"zero":false},"axis":null},
  "y":{"field":"v","type":"quantitative","scale":{"domain":[5.712,11.94],"nice":false,"zero":false}},
  "color":{"field":"s","type":"nominal","scale":{"domain":["e21","e50","e100","e200"],"range":["#ffff00","#ff0000","#00ee00","#000000"]},"legend":null}}},
{"data":{"name":"channel"},"mark":{"type":"line","color":"#1ab2e0","strokeWidth":3},
 "encoding":{"x":{"field":"i","type":"quantitative","scale":{"domain":[-0.1625,233.96],"nice":false,"zero":false},"axis":null},
  "y":{"field":"v","type":"quantitative","scale":{"domain":[5.712,11.94],"nice":false,"zero":false}},"detail":{"field":"k"}}},
{"data":{"name":"arrowUp"},"mark":{"type":"line","color":"#1ab2e0","strokeWidth":2.5,"interpolate":"monotone"},
 "encoding":{"x":{"field":"i","type":"quantitative","scale":{"domain":[-0.1625,233.96],"nice":false,"zero":false},"axis":null},
  "y":{"field":"v","type":"quantitative","scale":{"domain":[5.712,11.94],"nice":false,"zero":false}}}},
{"data":{"name":"arrowDown"},"mark":{"type":"line","color":"#4b5560","strokeWidth":2.8,"interpolate":"monotone"},
 "encoding":{"x":{"field":"i","type":"quantitative","scale":{"domain":[-0.1625,233.96],"nice":false,"zero":false},"axis":null},
  "y":{"field":"v","type":"quantitative","scale":{"domain":[5.712,11.94],"nice":false,"zero":false}}}},
{"data":{"values":[{}]},"mark":{"type":"point","shape":"triangle-up","filled":true,"size":110,"color":"#1ab2e0","opacity":1,"angle":12},
 "encoding":{"x":{"datum":198.3,"type":"quantitative","scale":{"domain":[-0.1625,233.96],"nice":false,"zero":false},"axis":null},
  "y":{"datum":11.25,"type":"quantitative","scale":{"domain":[5.712,11.94],"nice":false,"zero":false}}}},
{"data":{"values":[{}]},"mark":{"type":"point","shape":"triangle-down","filled":true,"size":110,"color":"#4b5560","opacity":1,"angle":338},
 "encoding":{"x":{"datum":201.5,"type":"quantitative","scale":{"domain":[-0.1625,233.96],"nice":false,"zero":false},"axis":null},
  "y":{"datum":8.594,"type":"quantitative","scale":{"domain":[5.712,11.94],"nice":false,"zero":false}}}},
{"data":{"name":"levels"},"transform":[{"filter":"datum.g != 'none'"}],"mark":{"type":"text","align":"left","baseline":"middle","dy":-10,"font":"Liberation Sans","fontSize":15,"fontWeight":"bold"},
 "encoding":{"x":{"datum":219.2,"type":"quantitative","scale":{"domain":[-0.1625,233.96],"nice":false,"zero":false},"axis":null},
  "y":{"field":"p","type":"quantitative","scale":{"domain":[5.712,11.94],"nice":false,"zero":false}},
  "text":{"field":"lab"},
  "color":{"field":"g","type":"nominal","scale":{"domain":["hi","lo"],"range":["#1aaedc","#56616c"]},"legend":null}}},
{"data":{"name":"levels"},"mark":{"type":"bar","orient":"horizontal","size":11,"color":"#000"},
 "encoding":{"x":{"datum":234.0,"type":"quantitative","scale":{"domain":[-0.1625,233.96],"nice":false,"zero":false},"axis":null},"x2":{"datum":237.1},
  "y":{"field":"p","type":"quantitative","scale":{"domain":[5.712,11.94],"nice":false,"zero":false}}}},
{"data":{"name":"levels"},"mark":{"type":"text","align":"left","baseline":"middle","color":"#fff","font":"Liberation Sans","fontSize":9},
 "encoding":{"x":{"datum":234.45,"type":"quantitative","scale":{"domain":[-0.1625,233.96],"nice":false,"zero":false},"axis":null},
  "y":{"field":"p","type":"quantitative","scale":{"domain":[5.712,11.94],"nice":false,"zero":false}},
  "text":{"field":"p","type":"quantitative","format":".2f"}}},
{"data":{"values":[{}]},"mark":{"type":"text","text":"200 EMA","font":"Liberation Sans","fontWeight":"bold","fontSize":14,"color":"#000","align":"center","baseline":"middle"},
 "encoding":{"x":{"datum":80.5,"type":"quantitative","scale":{"domain":[-0.1625,233.96],"nice":false,"zero":false},"axis":null},
  "y":{"datum":8.453,"type":"quantitative","scale":{"domain":[5.712,11.94],"nice":false,"zero":false}}}},
{"data":{"values":[{}]},"mark":{"type":"text","text":"100 EMA","font":"Liberation Sans","fontWeight":"bold","fontSize":14,"color":"#22dd22","align":"center","baseline":"middle"},
 "encoding":{"x":{"datum":68.7,"type":"quantitative","scale":{"domain":[-0.1625,233.96],"nice":false,"zero":false},"axis":null},
  "y":{"datum":8.299,"type":"quantitative","scale":{"domain":[5.712,11.94],"nice":false,"zero":false}}}},
{"data":{"values":[{}]},"mark":{"type":"text","text":"50 EMA","font":"Liberation Sans","fontWeight":"bold","fontSize":14,"color":"#ee1111","align":"center","baseline":"middle"},
 "encoding":{"x":{"datum":69.8,"type":"quantitative","scale":{"domain":[-0.1625,233.96],"nice":false,"zero":false},"axis":null},
  "y":{"datum":7.931,"type":"quantitative","scale":{"domain":[5.712,11.94],"nice":false,"zero":false}}}},
{"data":{"values":[{}]},"mark":{"type":"text","text":"21 EMA","font":"Liberation Sans","fontWeight":"bold","fontSize":14,"color":"#ffcc00","align":"center","baseline":"middle"},
 "encoding":{"x":{"datum":63.3,"type":"quantitative","scale":{"domain":[-0.1625,233.96],"nice":false,"zero":false},"axis":null},
  "y":{"datum":7.690,"type":"quantitative","scale":{"domain":[5.712,11.94],"nice":false,"zero":false}}}},
{"data":{"values":[{}]},"mark":{"type":"text","text":"LHA.D.EX, H4:  Deutsche Lufthansa AG (Physical Stock)  10.21 10.21 10.18 10.19","font":"Liberation Sans","fontSize":9,"color":"#000","align":"left","baseline":"middle"},
 "encoding":{"x":{"datum":0.4,"type":"quantitative","scale":{"domain":[-0.1625,233.96],"nice":false,"zero":false},"axis":null},
  "y":{"datum":11.865,"type":"quantitative","scale":{"domain":[5.712,11.94],"nice":false,"zero":false}}}}
]
},
{
"width":1873,"height":124,
"layer":[
{"data":{"name":"rsiLevels"},"mark":{"type":"rule","color":"#b4b4b4","strokeWidth":1,"strokeDash":[3,3]},
 "encoding":{"y":{"field":"v","type":"quantitative","scale":{"domain":[0,100],"nice":false,"zero":false},
  "axis":{"orient":"right","values":[0,20,80,100],"tickCount":20,"format":".2f","tickSize":3,"labelPadding":2,"labelOverlap":false,"domain":false,"grid":false,"title":null,"labelFont":"Liberation Sans","labelFontSize":9,"labelColor":"#000","tickColor":"#000"}}}},
{"data":{"name":"rsi"},"mark":{"type":"line","color":"#1aaedc","strokeWidth":1.2},
 "encoding":{"x":{"field":"i","type":"quantitative","scale":{"domain":[-0.1625,233.96],"nice":false,"zero":false},"axis":null},
  "y":{"field":"v","type":"quantitative","scale":{"domain":[0,100],"nice":false,"zero":false}}}},
{"data":{"values":[{}]},"mark":{"type":"text","text":"RSI(14) 61.98","font":"Liberation Sans","fontSize":9,"color":"#000","align":"left","baseline":"middle"},
 "encoding":{"x":{"datum":0.2,"type":"quantitative","scale":{"domain":[-0.1625,233.96],"nice":false,"zero":false},"axis":null},
  "y":{"datum":93,"type":"quantitative","scale":{"domain":[0,100],"nice":false,"zero":false}}}}
]
},
{
"width":1873,"height":117,
"layer":[
{"data":{"name":"hist"},"mark":{"type":"rule","color":"#2cb4e2","strokeWidth":1.2},
 "encoding":{"x":{"field":"i","type":"quantitative","scale":{"domain":[-0.1625,233.96],"nice":false,"zero":false},
  "axis":{"orient":"bottom","values":[0,8,16,24,32,40,48,56,64,72,80,88,96,104,112,120,128,136,144,152,160,168,176,184],"tickCount":60,
   "labelExpr":"['31 Aug 2020','3 Sep 08:00','7 Sep 16:00','10 Sep 12:00','15 Sep 08:00','17 Sep 16:00','22 Sep 12:00','25 Sep 08:00','29 Sep 16:00','2 Oct 12:00','7 Oct 12:00','12 Oct 08:00','14 Oct 16:00','19 Oct 12:00','22 Oct 08:00','26 Oct 16:00','29 Oct 12:00','3 Nov 08:00','5 Nov 16:00','10 Nov 12:00','13 Nov 08:00','17 Nov 16:00','20 Nov 12:00','25 Nov 08:00'][round(datum.value/8)]",
   "labelAlign":"left","labelBaseline":"top","labelPadding":0,"labelOffset":1,"tickSize":5,"labelOverlap":false,"labelBound":false,"labelFlush":false,"domain":false,"grid":false,"title":null,"labelFont":"Liberation Sans","labelFontSize":9,"labelColor":"#000","tickColor":"#000"}},
  "y":{"field":"v","type":"quantitative","scale":{"domain":[-0.557,0.581],"nice":false,"zero":false},
   "axis":{"orient":"right","values":[-0.484,0,0.535],"tickCount":20,"format":".3f","tickSize":3,"labelPadding":2,"labelOverlap":false,"domain":false,"grid":false,"title":null,"labelFont":"Liberation Sans","labelFontSize":9,"labelColor":"#000","tickColor":"#000"}},
  "y2":{"datum":0}}},
{"data":{"name":"signal"},"mark":{"type":"line","color":"#000","strokeWidth":1.6},
 "encoding":{"x":{"field":"i","type":"quantitative","scale":{"domain":[-0.1625,233.96],"nice":false,"zero":false}},
  "y":{"field":"v","type":"quantitative","scale":{"domain":[-0.557,0.581],"nice":false,"zero":false}}}},
{"data":{"values":[{}]},"mark":{"type":"text","text":"MACD(12,26,9) 0.293 0.294","font":"Liberation Sans","fontSize":9,"color":"#000","align":"left","baseline":"middle"},
 "encoding":{"x":{"datum":0.2,"type":"quantitative","scale":{"domain":[-0.1625,233.96],"nice":false,"zero":false}},
  "y":{"datum":0.493,"type":"quantitative","scale":{"domain":[-0.557,0.581],"nice":false,"zero":false}}}}
]
}
]
}
